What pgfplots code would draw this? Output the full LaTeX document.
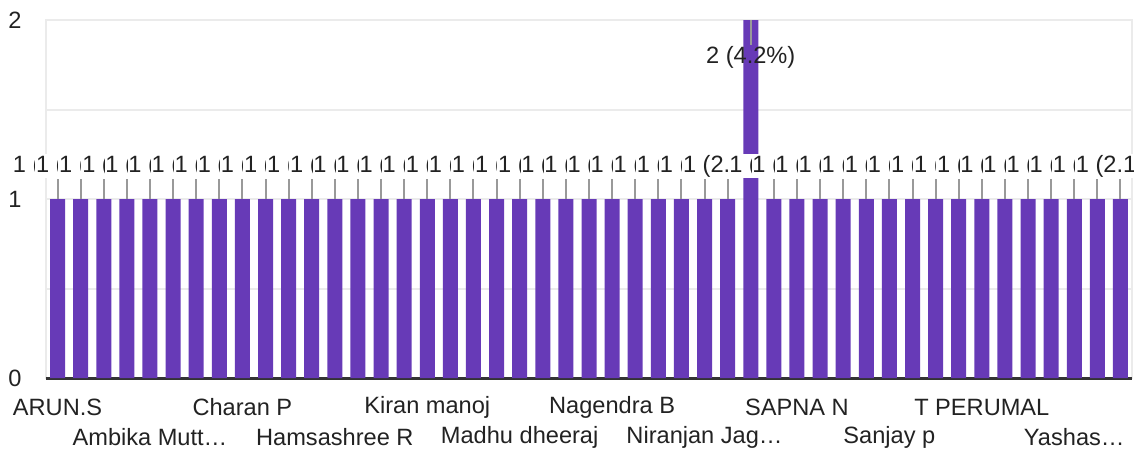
\documentclass[border=0pt]{standalone}
\usepackage{pgfplots}
\pgfplotsset{compat=1.18}
\usepackage{fontspec}
\setmainfont{Liberation Sans}
\definecolor{barc}{RGB}{103,58,183}
\definecolor{gridc}{RGB}{235,235,235}
\definecolor{txt}{RGB}{34,34,34}
\definecolor{lead}{RGB}{153,153,153}
\begin{document}
\begin{tikzpicture}
\begin{axis}[
  at={(23pt,36pt)}, anchor=south west,
  scale only axis, width=543pt, height=179pt,
  xmin=-0.5, xmax=46.5, ymin=0, ymax=2,
  clip=false,
  axis line style={draw=gridc, line width=1pt},
  major tick length=0pt, minor tick length=0pt,
  ytick={1,2}, yticklabels={1,2},
  minor ytick={0.5,1.5},
  ymajorgrids, yminorgrids,
  grid style={draw=gridc, line width=1pt},
  minor grid style={draw=gridc, line width=1pt},
  extra y ticks={0}, extra y tick labels={0},
  extra y tick style={grid=major, major grid style={draw=black!80, line width=1.5pt}},
  /pgf/number format/assume math mode=true,
  yticklabel style={anchor=center, xshift=-15.5pt, text=txt, font=\fontsize{11.8}{14}\selectfont},
  xtick={0,8,16,24,32,40},
  xticklabels={ARUN.S, Charan P, Kiran manoj, Nagendra B, SAPNA N, T PERUMAL},
  xticklabel style={anchor=center, yshift=-14.5pt, text=txt, font=\fontsize{11.8}{14}\selectfont},
  extra x ticks={4,12,20,28,36,44},
  extra x tick labels={Ambika Mutt…, Hamsashree R, Madhu dheeraj, Niranjan Jag…, Sanjay p, Yashas…},
  extra x tick style={xticklabel style={yshift=-15pt}},
]
\addplot[ybar, bar width=7.5pt, fill=barc, draw=none] coordinates {
(0,1) (1,1) (2,1) (3,1) (4,1) (5,1) (6,1) (7,1) (8,1) (9,1)
(10,1) (11,1) (12,1) (13,1) (14,1) (15,1) (16,1) (17,1) (18,1) (19,1)
(20,1) (21,1) (22,1) (23,1) (24,1) (25,1) (26,1) (27,1) (28,1) (29,1)
(30,2) (31,1) (32,1) (33,1) (34,1) (35,1) (36,1) (37,1) (38,1) (39,1)
(40,1) (41,1) (42,1) (43,1) (44,1) (45,1) (46,1)
};
% leader lines
\addplot[draw=none, mark=none, forget plot,
  error bars/.cd, y dir=plus, y explicit, error mark=none,
  error bar style={draw=lead, line width=1pt}] coordinates {
(0,1) +- (0,0.112) (1,1) +- (0,0.112) (2,1) +- (0,0.112) (3,1) +- (0,0.112) (4,1) +- (0,0.112)
(5,1) +- (0,0.112) (6,1) +- (0,0.112) (7,1) +- (0,0.112) (8,1) +- (0,0.112) (9,1) +- (0,0.112)
(10,1) +- (0,0.112) (11,1) +- (0,0.112) (12,1) +- (0,0.112) (13,1) +- (0,0.112) (14,1) +- (0,0.112)
(15,1) +- (0,0.112) (16,1) +- (0,0.112) (17,1) +- (0,0.112) (18,1) +- (0,0.112) (19,1) +- (0,0.112)
(20,1) +- (0,0.112) (21,1) +- (0,0.112) (22,1) +- (0,0.112) (23,1) +- (0,0.112) (24,1) +- (0,0.112)
(25,1) +- (0,0.112) (26,1) +- (0,0.112) (27,1) +- (0,0.112) (28,1) +- (0,0.112) (29,1) +- (0,0.112)
(31,1) +- (0,0.112) (32,1) +- (0,0.112) (33,1) +- (0,0.112) (34,1) +- (0,0.112)
(35,1) +- (0,0.112) (36,1) +- (0,0.112) (37,1) +- (0,0.112) (38,1) +- (0,0.112) (39,1) +- (0,0.112)
(40,1) +- (0,0.112) (41,1) +- (0,0.112) (42,1) +- (0,0.112) (43,1) +- (0,0.112) (44,1) +- (0,0.112)
(45,1) +- (0,0.112) (46,1) +- (0,0.112)
};
\addplot[draw=none, mark=none, forget plot,
  error bars/.cd, y dir=minus, y explicit, error mark=none,
  error bar style={draw=lead, line width=1pt}] coordinates {(30,2) +- (0,0.14)};
% value labels
\addplot[only marks, mark=*, mark size=0pt, forget plot,
  nodes near coords={1 (2.1\%)},
  nodes near coords style={anchor=center, fill=white, inner sep=0.4pt, text=txt, font=\fontsize{11.8}{14}\selectfont}] coordinates {
(0,1.184) (1,1.184) (2,1.184) (3,1.184) (4,1.184) (5,1.184) (6,1.184) (7,1.184) (8,1.184) (9,1.184)
(10,1.184) (11,1.184) (12,1.184) (13,1.184) (14,1.184) (15,1.184) (16,1.184) (17,1.184) (18,1.184) (19,1.184)
(20,1.184) (21,1.184) (22,1.184) (23,1.184) (24,1.184) (25,1.184) (26,1.184) (27,1.184) (28,1.184) (29,1.184)
(31,1.184) (32,1.184) (33,1.184) (34,1.184) (35,1.184) (36,1.184) (37,1.184) (38,1.184) (39,1.184)
(40,1.184) (41,1.184) (42,1.184) (43,1.184) (44,1.184) (45,1.184) (46,1.184)
};
\addplot[only marks, mark=*, mark size=0pt, forget plot,
  nodes near coords={2 (4.2\%)},
  nodes near coords style={anchor=center, fill=none, inner sep=0.4pt, text=txt, font=\fontsize{11.8}{14}\selectfont}] coordinates {(30,1.793)};
\end{axis}
\pgfresetboundingbox
\path[use as bounding box] (0,0) rectangle (567pt,225pt);
\end{tikzpicture}
\end{document}
